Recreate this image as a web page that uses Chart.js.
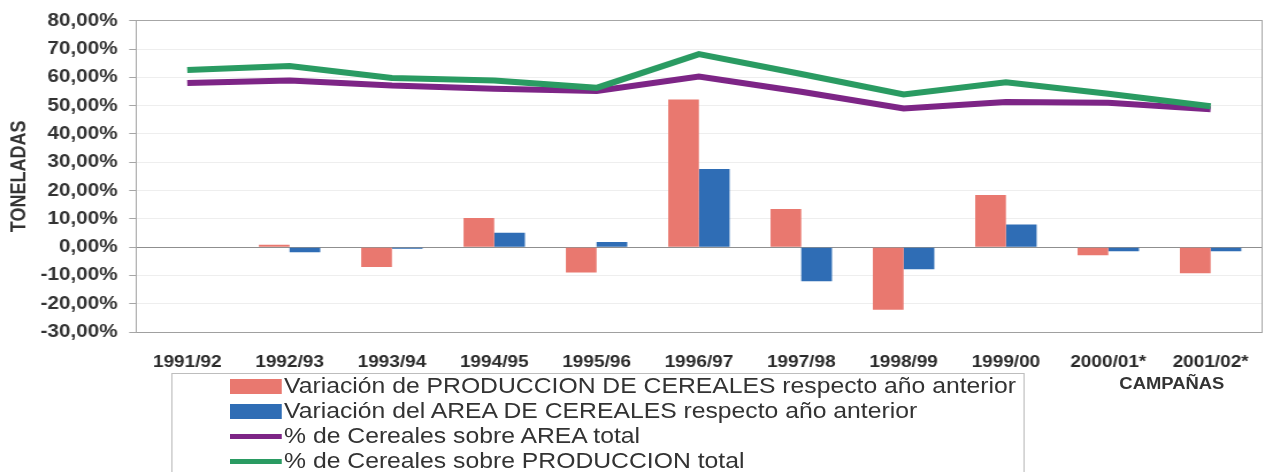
<!DOCTYPE html>
<html lang="es">
<head>
<meta charset="utf-8">
<title>Cereales por campaña</title>
<script src="https://cdn.jsdelivr.net/npm/chart.js@4/dist/chart.umd.min.js"></script>
<style>
  html, body { margin: 0; padding: 0; background: #fff; overflow: hidden; }
  /* la figura original esta estirada en horizontal */
  #lienzo { position: relative; width: 1107px; height: 472px; transform: scaleX(1.15); transform-origin: 0 0;
            font-family: "Liberation Sans", Arial, sans-serif; }
  #grafico { position: absolute; left: 0; top: 0; }
  #titulo-x { position: absolute; left: 969px; top: 374px; width: 100px; line-height: 20px; text-align: center;
              font-weight: bold; font-size: 16px; color: #333; }
  #leyenda { position: absolute; left: 149px; top: 373px; width: 742px; height: 120px;
             border: 1px solid #bdbdbd; box-sizing: border-box; }
  .item { position: absolute; left: 50px; height: 26px; display: flex; align-items: center;
          font-size: 21.5px; color: #333; white-space: nowrap; }
  .muestra { width: 45px; margin-right: 2px; }
</style>
</head>
<body>
<div id="lienzo">
  <canvas id="grafico" width="1107" height="472"></canvas>
  <div id="titulo-x">CAMPAÑAS</div>
  <div id="leyenda"></div>
</div>
<script>
// Datos (en %)
const campanas = ['1991/92', '1992/93', '1993/94', '1994/95', '1995/96', '1996/97',
                  '1997/98', '1998/99', '1999/00', '2000/01*', '2001/02*'];
const varProduccion = [null, 0.8, -7.0, 10.3, -9.0, 52.2, 13.5, -22.1, 18.4, -2.9, -9.2];
const varArea = [null, -1.8, -0.6, 5.1, 1.8, 27.6, -12.1, -7.8, 8.0, -1.5, -1.5];
const cerealesArea = [58.0, 58.9, 57.1, 56.0, 55.2, 60.3, 54.9, 49.0, 51.3, 51.0, 48.7];
const cerealesProduccion = [62.6, 64.0, 59.8, 58.9, 56.3, 68.2, 61.2, 54.0, 58.3, 54.2, 49.8];
const yMin = -30;
const yMax = 80;
const yPaso = 10;

const etiquetas = {
    produccion: 'Variación de PRODUCCION DE CEREALES respecto año anterior',
    area: 'Variación del AREA DE CEREALES respecto año anterior',
    pctArea: '% de Cereales sobre AREA total',
    pctProduccion: '% de Cereales sobre PRODUCCION total'
};

const fuente = '"Liberation Sans", Arial, sans-serif';

const chart = new Chart(document.getElementById('grafico'), {
    data: {
        labels: campanas,
        datasets: [
            { type: 'bar', label: etiquetas.produccion, data: varProduccion, backgroundColor: '#e9786f', order: 2 },
            { type: 'bar', label: etiquetas.area, data: varArea, backgroundColor: '#2f6db5', order: 2 },
            { type: 'line', label: etiquetas.pctArea, data: cerealesArea, borderColor: '#7d2586',
              backgroundColor: '#7d2586', borderWidth: 6, pointRadius: 0, tension: 0, order: 1 },
            { type: 'line', label: etiquetas.pctProduccion, data: cerealesProduccion, borderColor: '#2a9b62',
              backgroundColor: '#2a9b62', borderWidth: 6, pointRadius: 0, tension: 0, order: 0 }
        ]
    },
    options: {
        responsive: false,
        animation: false,
        layout: { padding: { left: 6.6, right: 6, top: 16, bottom: 0 } },
        datasets: {
            bar: { categoryPercentage: 0.6, barPercentage: 1.0 }
        },
        plugins: {
            legend: { display: false },
            tooltip: { enabled: false }
        },
        scales: {
            x: {
                grid: { display: false, drawTicks: false },
                border: { display: true, color: '#a0a0a0' },
                ticks: {
                    autoSkip: false, maxRotation: 0, padding: 21, color: '#2b2b2b',
                    font: { family: fuente, size: 16.5, weight: 'bold' }
                },
                afterFit: function (scale) { scale.height = 140; }
            },
            y: {
                min: yMin,
                max: yMax,
                ticks: {
                    stepSize: yPaso, padding: 10, color: '#333',
                    font: { family: fuente, size: 18, weight: 'bold' },
                    callback: v => v.toFixed(2).replace('.', ',') + '%'
                },
                grid: {
                    tickLength: 6,
                    tickColor: '#a6a6a6',
                    color: ctx => {
                        if (ctx.tick.value === 0) return '#8f8f8f';
                        if (ctx.tick.value === yMax) return '#a6a6a6';
                        return '#eeeeee';
                    }
                },
                border: { display: true, color: '#a6a6a6' },
                title: {
                    display: true, text: 'TONELADAS', color: '#333', padding: { top: 0, bottom: 0 },
                    font: { family: fuente, size: 18, weight: 'bold' }
                },
                afterFit: function (scale) { scale.width = 111.7; }
            },
            yDer: {
                position: 'right',
                min: yMin,
                max: yMax,
                ticks: { display: false },
                grid: { display: false, drawTicks: false },
                border: { display: true, color: '#a6a6a6' }
            }
        }
    }
});

// Leyenda en HTML, a partir de las series del grafico
const leyenda = document.getElementById('leyenda');
const topes = [-1, 24, 49, 74];
chart.data.datasets.forEach((ds, i) => {
    const item = document.createElement('div');
    item.className = 'item';
    item.style.top = topes[i] + 'px';
    const muestra = document.createElement('span');
    muestra.className = 'muestra';
    muestra.style.height = ds.type === 'bar' ? '15px' : '5px';
    muestra.style.background = ds.type === 'bar' ? ds.backgroundColor : ds.borderColor;
    const texto = document.createElement('span');
    texto.textContent = ds.label;
    item.appendChild(muestra);
    item.appendChild(texto);
    leyenda.appendChild(item);
});
</script>
</body>
</html>
